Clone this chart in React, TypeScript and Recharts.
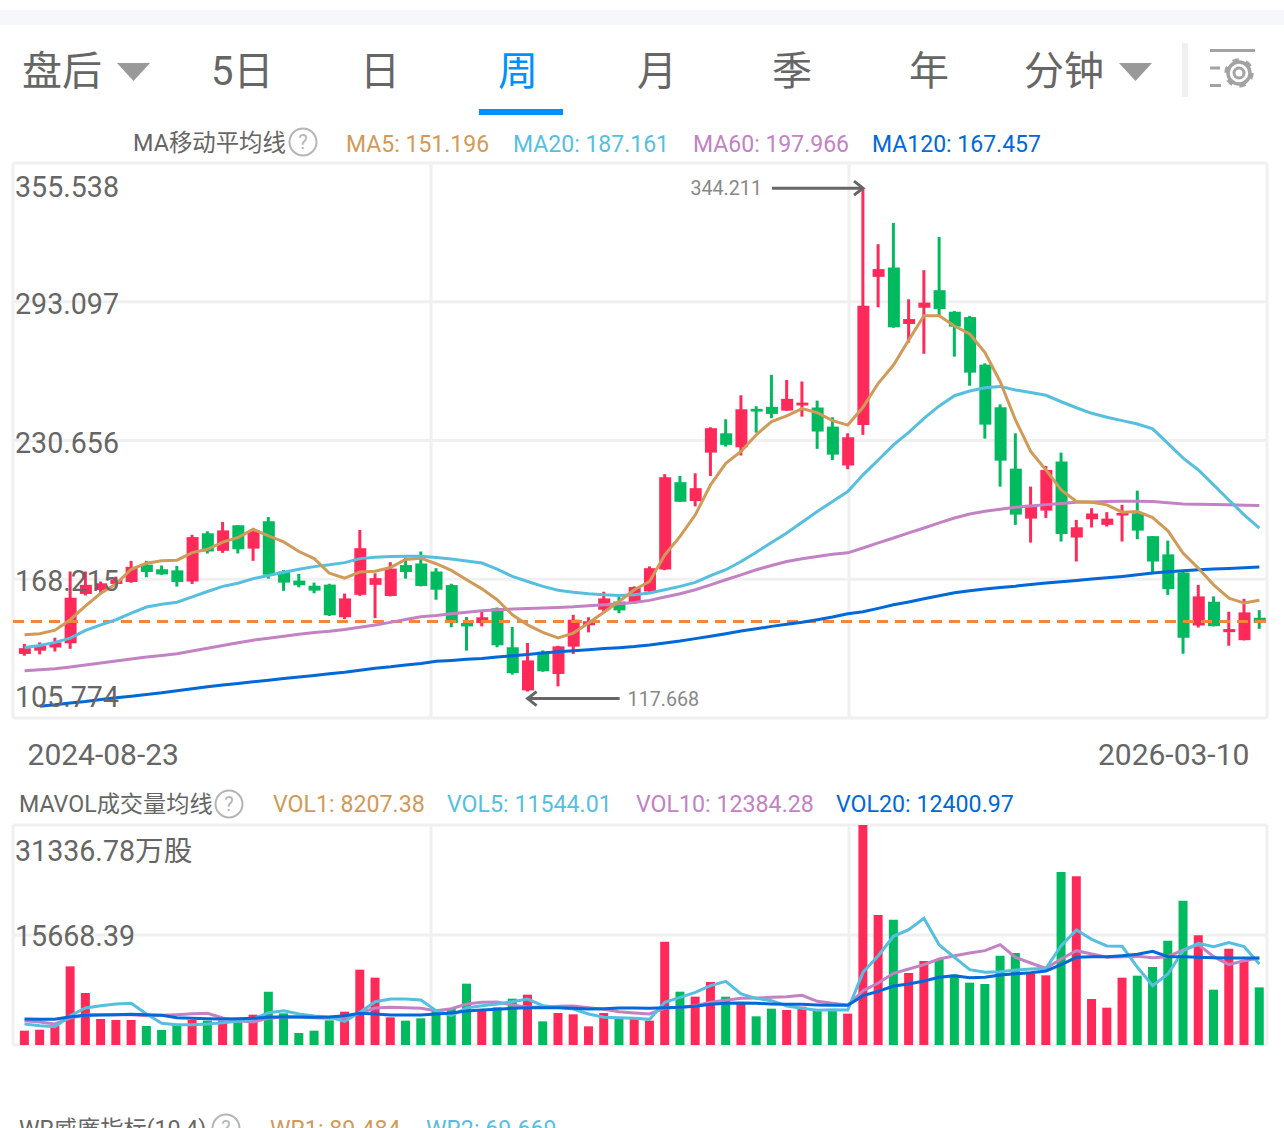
import React from "react";
import {
  Bar,
  CartesianGrid,
  Cell,
  ComposedChart,
  Line,
  ReferenceDot,
  ReferenceLine,
  XAxis,
  YAxis,
} from "recharts";

const dates = [
  "2024-08-23", "2024-08-30", "2024-09-06", "2024-09-13", "2024-09-20", "2024-09-27", "2024-10-04", "2024-10-11", "2024-10-18", "2024-10-25",
  "2024-11-01", "2024-11-08", "2024-11-15", "2024-11-22", "2024-11-29", "2024-12-06", "2024-12-13", "2024-12-20", "2024-12-27", "2025-01-03",
  "2025-01-10", "2025-01-17", "2025-01-24", "2025-01-31", "2025-02-07", "2025-02-14", "2025-02-21", "2025-02-28", "2025-03-07", "2025-03-14",
  "2025-03-21", "2025-03-28", "2025-04-04", "2025-04-11", "2025-04-18", "2025-04-25", "2025-05-02", "2025-05-09", "2025-05-16", "2025-05-23",
  "2025-05-30", "2025-06-06", "2025-06-13", "2025-06-20", "2025-06-27", "2025-07-04", "2025-07-11", "2025-07-18", "2025-07-25", "2025-08-01",
  "2025-08-08", "2025-08-15", "2025-08-22", "2025-08-29", "2025-09-05", "2025-09-12", "2025-09-19", "2025-09-26", "2025-10-03", "2025-10-10",
  "2025-10-17", "2025-10-24", "2025-10-31", "2025-11-07", "2025-11-14", "2025-11-21", "2025-11-28", "2025-12-05", "2025-12-12", "2025-12-19",
  "2025-12-26", "2026-01-02", "2026-01-09", "2026-01-16", "2026-01-23", "2026-01-30", "2026-02-06", "2026-02-13", "2026-02-20", "2026-02-27",
  "2026-03-06", "2026-03-10",
];

const opens = [
  134.6, 136.1, 137.5, 139.4, 161.6, 163.4, 166.1, 167, 174.8, 172.7,
  172.2, 167.2, 188.9, 181, 192.5, 182, 194.3, 171.7, 167.6, 165.3,
  165.8, 151.1, 161.2, 165.7, 160.7, 174.6, 175.3, 171.7, 165.6, 148.5,
  148.5, 155.2, 137.6, 118.2, 135.6, 125.6, 137.9, 147.5, 154.5, 158.2,
  157.8, 162.7, 172.6, 211.9, 203.4, 225.2, 233.9, 227.6, 244.9, 245.8,
  244.1, 246.4, 245.5, 236.9, 219.4, 237.6, 304.3, 308.5, 283.1, 290.4,
  298.3, 288.6, 286.2, 264.8, 245.6, 218, 195.5, 199.1, 221.2, 187,
  195.2, 192.7, 196.9, 197.9, 187.6, 179.4, 171.3, 147.4, 158.1, 144.4,
  140.8, 150.9,
];
const closes = [
  137.2, 138.2, 139.8, 159.9, 165.7, 166.4, 167.9, 173.8, 171.5, 170.4,
  167, 187.2, 180.7, 190.2, 181.7, 189.7, 170.2, 166.7, 165.5, 163.1,
  152, 159.6, 182.2, 168.7, 173, 171.5, 165.2, 163.5, 148.5, 147,
  151.1, 138.5, 126, 131.7, 126.8, 138, 150, 149.3, 159.6, 154.2,
  164.7, 173.2, 214.1, 203.1, 209.2, 236.2, 228.7, 244.7, 243.7, 242.6,
  249.4, 247.7, 234.7, 224.3, 232.1, 291.3, 307.8, 281.6, 285.3, 292.7,
  289.8, 281.9, 261.2, 237.8, 221.6, 197.3, 201.7, 217.4, 188.6, 191.6,
  197.8, 195.5, 198.1, 190.1, 176.2, 163.8, 141.9, 160.5, 147.1, 145.8,
  153.3, 148.6,
];
const highs = [
  139.1, 139.8, 141.9, 171.7, 171.7, 167.2, 169.4, 176.5, 176.5, 174.4,
  174.2, 188.2, 189.8, 194, 192.6, 190.4, 196.2, 172.4, 170.6, 166.7,
  166.2, 161.8, 190.4, 170.9, 175.9, 178, 180.7, 173.2, 166.2, 151.2,
  154.2, 155.5, 146.7, 139.5, 136.2, 138.3, 152.2, 151.1, 162.6, 160.2,
  165, 174, 215.5, 214.7, 215.9, 236.6, 240.2, 251, 246.1, 260.2,
  257.9, 257.2, 248.6, 241.1, 233.9, 344.211, 319, 328.6, 294.2, 307.3,
  322.2, 288.9, 286.7, 265.4, 246.9, 233.9, 209.9, 219.2, 225.2, 194.9,
  200.2, 198.4, 201.7, 208.1, 187.6, 185.6, 171.4, 165.7, 160.5, 153.6,
  159.4, 154.3,
];
const lows = [
  133.8, 134.4, 135.7, 136.9, 160.9, 161.9, 165.7, 166.6, 169.1, 170.2,
  164.9, 166.1, 179.8, 180.1, 179.8, 176.5, 168.5, 163, 164.6, 161.9,
  151.7, 150.3, 160.7, 150.7, 160.5, 168.5, 165, 159, 146.6, 136.1,
  147, 137.6, 125.3, 117.668, 126.6, 120, 134.6, 144.3, 153.7, 152.9,
  157.3, 162.6, 172.3, 203, 201, 214.7, 227.9, 223.9, 234.2, 240.7,
  244, 241.4, 226.9, 221.9, 217.7, 233.2, 290.6, 281.4, 274.7, 269.7,
  286.8, 268.4, 255.3, 231.5, 209.9, 192.7, 184.7, 195.8, 185.2, 176.2,
  191.5, 191.9, 185.2, 186.2, 170.5, 161.2, 134.7, 146.5, 147, 138.3,
  140.7, 145.9,
];

const ma5 = [
  143.2, 143.7, 145.3, 150, 156.2, 161.9, 166.1, 172.7, 175.4, 176.5,
  176.8, 180.2, 181.7, 184.9, 187, 190.7, 187.7, 185, 180.7, 177.5,
  170.9, 168.7, 171.5, 171.8, 173.5, 177.1, 177.7, 175.2, 172.2, 168,
  163.9, 159, 152.2, 147.7, 144.3, 141.8, 144, 148.5, 153.4, 158.2,
  163.5, 167.2, 179.2, 187.5, 197.2, 210.7, 220.4, 225.7, 233.2, 239.2,
  241.7, 245, 243.2, 239.6, 237.6, 245.6, 256.4, 264.6, 275.9, 286.8,
  286.8, 282.2, 278.6, 270.2, 257.1, 239.9, 225.7, 217.4, 208.4, 203.2,
  202.9, 201.7, 198.4, 198.7, 196, 190, 179.9, 173.2, 165.7, 159.7,
  157.5, 158.8,
];
const ma20 = [
  137.5, 138.4, 139.8, 141.7, 145.2, 147.7, 150, 153, 155.7, 157,
  157.9, 160.3, 162.7, 165, 166.4, 168.5, 169.9, 171.4, 172.7, 173.9,
  174.7, 175.7, 177.5, 178.1, 178.4, 178.6, 178.6, 178, 177.3, 176.4,
  175.5, 172.8, 169.5, 167.2, 165, 163.3, 162.4, 161.7, 161.2, 160.9,
  161.2, 162, 163.5, 165, 166.8, 169.8, 172.5, 176.2, 180.4, 184.8,
  189, 193.9, 198.7, 203.2, 207.7, 215.2, 221.9, 228.7, 234.3, 240.6,
  246.2, 250.8, 252.9, 254.4, 255, 253.4, 252.3, 251, 248.1, 245.4,
  242.9, 241.1, 239.6, 238.1, 235.9, 229.4, 222.7, 217.4, 210.7, 203.9,
  197.2, 191.2,
];
const ma60 = [
  127, 127.5, 127.9, 128.7, 129.6, 130.5, 131.4, 132.3, 133.2, 133.9,
  134.7, 135.9, 137.2, 138.4, 139.6, 140.8, 141.7, 142.6, 143.5, 144.3,
  144.8, 145.6, 146.6, 147.6, 148.8, 150.1, 151.3, 151.9, 152.7, 153.4,
  154, 154.5, 154.8, 155.1, 155.3, 155.5, 155.8, 156.3, 156.7, 157.2,
  157.8, 158.7, 160.2, 161.7, 163.5, 165.7, 168, 170.2, 172.5, 174.4,
  176.2, 177.4, 178.5, 179.5, 180.1, 182.3, 184.6, 186.8, 189.1, 191.3,
  193.6, 195.8, 197.6, 198.8, 199.7, 200.6, 201.2, 201.8, 202.3, 202.9,
  203, 203.2, 203.3, 203.3, 203.2, 202.6, 202.1, 202, 201.8, 201.7,
  201.5, 201.4,
];
const ma120 = [
  null, 111.1, 111.7, 112.5, 113.2, 114.1, 114.9, 115.6, 116.4, 117.1,
  118, 118.9, 119.8, 120.6, 121.3, 122.1, 122.8, 123.6, 124.2, 124.9,
  125.7, 126.4, 127.3, 128.2, 128.8, 129.6, 130.3, 131.3, 131.7, 132.2,
  132.6, 133.2, 133.8, 134.4, 135, 135.6, 136, 136.5, 137, 137.4,
  137.9, 138.6, 139.5, 140.4, 141.5, 142.6, 143.7, 144.9, 145.9, 147,
  148, 148.9, 150, 151.2, 152.7, 153.6, 155.1, 156.7, 158, 159.4,
  160.8, 162.1, 163, 163.8, 164.5, 165.1, 165.9, 166.5, 167.1, 167.7,
  168.3, 168.9, 169.5, 170.2, 171, 171.6, 172, 172.5, 172.8, 173.1,
  173.4, 173.7,
];

const vol1 = [
  2042, 2184, 2754, 11205, 7407, 3703, 3561, 3561, 2706, 2137,
  2991, 3561, 3466, 3466, 3229, 4321, 7597, 4511, 1709, 2042,
  3514, 4748, 10730, 9591, 3941, 3466, 3798, 4890, 5128, 8736,
  4890, 5365, 6600, 7169, 3371, 4558, 4368, 2659, 4558, 3941,
  3703, 3466, 14719, 7597, 6885, 8974, 6885, 6077, 4083, 5175,
  4985, 5460, 5128, 5128, 4463, 31336.78, 18517, 17852, 10256, 11965,
  12250, 10018, 8879, 8689, 12725, 13104, 10113, 9923, 24642, 24025,
  6552, 5318, 9591, 9876, 11110, 14861, 20559, 15621, 7882, 13722,
  12012, 8207.38,
];
const vol5 = [
  2991, 2754, 2611, 4178, 5270, 5603, 5840, 5935, 4416, 3086,
  2896, 2896, 2991, 3181, 3371, 3703, 4606, 4890, 4416, 4131,
  3988, 3371, 4653, 6172, 6552, 6552, 6410, 4890, 4178, 5270,
  5603, 5840, 6172, 6552, 5603, 5365, 5128, 4416, 3941, 3893,
  3798, 3656, 6077, 6790, 7502, 8451, 9069, 7264, 6647, 6315,
  5555, 5223, 4938, 5033, 4985, 10351, 12725, 15478, 16428, 18042,
  14244, 12487, 10730, 10351, 10446, 10683, 10825, 10920, 14149, 16381,
  15051, 14102, 14054, 11063, 8451, 10113, 13437, 14481, 14007, 14576,
  14007, 11544.01,
];
const vol10 = [
  3466, 3276, 2991, 3846, 4273, 4321, 4321, 4321, 4178, 4226,
  4321, 4463, 4511, 3846, 3466, 3276, 3798, 3988, 3988, 3893,
  3798, 3941, 4558, 5270, 5365, 5318, 5223, 4890, 5175, 5840,
  6077, 6125, 5698, 5365, 5413, 5508, 5555, 5318, 5080, 4748,
  4558, 4416, 5270, 5365, 5603, 6077, 6362, 6647, 6695, 6790,
  6885, 7075, 6220, 5935, 5698, 7739, 8831, 10208, 10825, 11443,
  12250, 12725, 13104, 13437, 14291, 12487, 11680, 10920, 12250, 13437,
  12962, 12487, 12582, 12630, 12440, 12582, 13532, 14291, 12582, 11443,
  12012, 12384.28,
];
const vol20 = [
  3703, 3656, 3656, 4036, 4226, 4273, 4321, 4368, 4321, 4226,
  3893, 3798, 3751, 3703, 3751, 3798, 3941, 4036, 3988, 3941,
  3988, 4178, 4511, 4416, 4273, 4273, 4273, 4416, 4558, 4843,
  4985, 5080, 5223, 5318, 5318, 5318, 5223, 5128, 5175, 5270,
  5270, 5223, 5318, 5365, 5508, 5793, 5935, 5982, 5935, 5840,
  5793, 5793, 5698, 5650, 5650, 7027, 7644, 8404, 8689, 9116,
  9638, 9876, 9591, 9638, 9971, 10161, 10303, 10541, 11443, 12487,
  12582, 12582, 12725, 12915, 13342, 12582, 12582, 12487, 12440, 12392,
  12392, 12400.97,
];

const priceTicks = [105.774, 168.215, 230.656, 293.097, 355.538];
const volumeTicks = [0, 15668.39, 31336.78];
const tabs = [
  { label: "盘后", x: 22 },
  { label: "5日", x: 211 },
  { label: "日", x: 360 },
  { label: "周", x: 498, active: true },
  { label: "月", x: 637 },
  { label: "季", x: 772 },
  { label: "年", x: 909 },
  { label: "分钟", x: 1024 },
];
const maLegend = [
  { text: "MA5: 151.196", x: 346, color: "#d09a58" },
  { text: "MA20: 187.161", x: 513, color: "#56bfe0" },
  { text: "MA60: 197.966", x: 693, color: "#c282c4" },
  { text: "MA120: 167.457", x: 872, color: "#0068d8" },
];
const volLegend = [
  { text: "VOL1: 8207.38", x: 273, color: "#d09a58" },
  { text: "VOL5: 11544.01", x: 447, color: "#56bfe0" },
  { text: "VOL10: 12384.28", x: 636, color: "#c282c4" },
  { text: "VOL20: 12400.97", x: 836, color: "#0068d8" },
];
const wrLegend = [
  { text: "WR1: 89.484", x: 270, color: "#d09a58" },
  { text: "WR2: 69.669", x: 426, color: "#56bfe0" },
];

const RED = "#ff2a5a";
const GREEN = "#00ba5f";
const GRID = "#f0f0f0";
const FONT = 'Roboto, "Noto Sans CJK SC", sans-serif';

const candleRows = dates.map((date, i) => ({
  date,
  wick: [lows[i], highs[i]],
  body: [Math.min(opens[i], closes[i]), Math.max(opens[i], closes[i])],
  up: closes[i] > opens[i],
  ma5: ma5[i],
  ma20: ma20[i],
  ma60: ma60[i],
  ma120: ma120[i],
}));

const volumeRows = dates.map((date, i) => ({
  date,
  vol: vol1[i],
  up: closes[i] > opens[i],
  vol5: vol5[i],
  vol10: vol10[i],
  vol20: vol20[i],
}));

const Txt = ({ x, y, size, color, children }: any) => (
  <span
    style={{
      position: "absolute",
      left: x,
      top: y,
      transform: "translateY(-50%)",
      fontSize: size,
      lineHeight: 1,
      color,
      whiteSpace: "nowrap",
    }}
  >
    {children}
  </span>
);

const Help = ({ x, y }: any) => (
  <svg style={{ position: "absolute", left: x - 15, top: y - 15 }} width={30} height={30}>
    <circle cx={15} cy={15} r={13.5} fill="none" stroke="#b5b5b5" strokeWidth={2} />
    <text x={15} y={22} textAnchor="middle" fontSize={20} fill="#b5b5b5">?</text>
  </svg>
);

const Triangle = ({ x }: any) => (
  <svg style={{ position: "absolute", left: x, top: 62 }} width={34} height={20}>
    <path d="M0 1 L33 1 L16.5 19 Z" fill="#999" />
  </svg>
);

const PriceTick = ({ y, index, payload }: any) => {
  // the top and bottom labels sit inside the frame, the others on their grid line
  const shift = index === 0 ? -21 : index === priceTicks.length - 1 ? 24 : 2;
  return (
    <text x={5} y={y + shift + 10} fontSize={28.6} fill="#666" fontFamily={FONT}>
      {payload.value.toFixed(3)}
    </text>
  );
};

const VolumeTick = ({ y, index, payload }: any) => {
  if (index === 0) return null;
  const top = index === volumeTicks.length - 1;
  return (
    <text x={5} y={y + (top ? 26 : 1) + 10} fontSize={28.6} fill="#666" fontFamily={FONT}>
      {payload.value.toFixed(2)}
      {top ? "万股" : ""}
    </text>
  );
};

const DateTick = ({ x, y, index, payload }: any) => (
  <text
    x={index === 0 ? x + 3 : x - 10}
    y={y + 39}
    fontSize={30}
    fill="#666"
    fontFamily={FONT}
    textAnchor={index === 0 ? "start" : "end"}
  >
    {payload.value}
  </text>
);

const HighMark = ({ cx, cy }: any) => (
  <g>
    <line x1={cx - 91} y1={cy} x2={cx} y2={cy} stroke="#666" strokeWidth={3} />
    <path d={`M${cx - 9} ${cy - 7} L${cx} ${cy} L${cx - 9} ${cy + 7}`} fill="none" stroke="#666" strokeWidth={3} />
    <text x={cx - 101} y={cy + 7} fontSize={19.7} fill="#888" fontFamily={FONT} textAnchor="end">344.211</text>
  </g>
);

const LowMark = ({ cx, cy }: any) => (
  <g>
    <line x1={cx} y1={cy + 7} x2={cx + 92} y2={cy + 7} stroke="#666" strokeWidth={3} />
    <path d={`M${cx + 9} ${cy} L${cx} ${cy + 7} L${cx + 9} ${cy + 14}`} fill="none" stroke="#666" strokeWidth={3} />
    <text x={cx + 100} y={cy + 14} fontSize={19.7} fill="#888" fontFamily={FONT}>117.668</text>
  </g>
);

const frameColumns = ({ offset }: any) => [
  offset.left,
  offset.left + offset.width / 3,
  offset.left + (offset.width * 2) / 3,
  offset.left + offset.width,
];

const CandleChart = () => (
  <div style={{ position: "absolute", left: 10, top: 160 }}>
    <ComposedChart
      width={1260}
      height={614}
      data={candleRows}
      margin={{ top: 3, right: 3, bottom: 0, left: 3 }}
    >
      <CartesianGrid stroke={GRID} strokeWidth={3} verticalCoordinatesGenerator={frameColumns} />
      <XAxis
        dataKey="date"
        height={56}
        padding={{ left: 3.9, right: 0 }}
        ticks={[dates[0], dates[dates.length - 1]]}
        interval={0}
        axisLine={false}
        tickLine={false}
        tick={<DateTick />}
      />
      <XAxis xAxisId="wick" dataKey="date" hide padding={{ left: 3.9, right: 0 }} />
      <Bar xAxisId="wick" dataKey="wick" barSize={3} isAnimationActive={false}>
        {candleRows.map((row) => (
          <Cell key={row.date} fill={row.up ? RED : GREEN} />
        ))}
      </Bar>
      <Bar dataKey="body" barSize={12} isAnimationActive={false}>
        {candleRows.map((row) => (
          <Cell key={row.date} fill={row.up ? RED : GREEN} />
        ))}
      </Bar>
      <ReferenceLine y={149.2} stroke="#f5843c" strokeWidth={3} strokeDasharray="11 7" />
      <Line dataKey="ma120" stroke="#0068d8" strokeWidth={3} dot={false} isAnimationActive={false} />
      <Line dataKey="ma60" stroke="#c282c4" strokeWidth={3} dot={false} isAnimationActive={false} />
      <Line dataKey="ma20" stroke="#56bfe0" strokeWidth={3} dot={false} isAnimationActive={false} />
      <Line dataKey="ma5" stroke="#d09a58" strokeWidth={3} dot={false} isAnimationActive={false} />
      <ReferenceDot x={dates[55]} y={344.211} shape={<HighMark />} />
      <ReferenceDot x={dates[33]} y={117.668} shape={<LowMark />} />
      <YAxis
        mirror
        domain={[105.774, 355.538]}
        ticks={priceTicks}
        interval={0}
        allowDataOverflow
        axisLine={false}
        tickLine={false}
        tick={<PriceTick />}
      />
    </ComposedChart>
  </div>
);

const VolumeChart = () => (
  <div style={{ position: "absolute", left: 10, top: 822 }}>
    <ComposedChart
      width={1260}
      height={226}
      data={volumeRows}
      margin={{ top: 3, right: 3, bottom: 3, left: 3 }}
    >
      <CartesianGrid stroke={GRID} strokeWidth={3} verticalCoordinatesGenerator={frameColumns} />
      <XAxis dataKey="date" hide padding={{ left: 3.9, right: 0 }} />
      <Bar dataKey="vol" barSize={9} isAnimationActive={false}>
        {volumeRows.map((row) => (
          <Cell key={row.date} fill={row.up ? RED : GREEN} />
        ))}
      </Bar>
      <Line dataKey="vol10" stroke="#c282c4" strokeWidth={3} dot={false} isAnimationActive={false} />
      <Line dataKey="vol5" stroke="#56bfe0" strokeWidth={3} dot={false} isAnimationActive={false} />
      <Line dataKey="vol20" stroke="#0068d8" strokeWidth={3} dot={false} isAnimationActive={false} />
      <YAxis
        mirror
        domain={[0, 31336.78]}
        ticks={volumeTicks}
        interval={0}
        allowDataOverflow
        axisLine={false}
        tickLine={false}
        tick={<VolumeTick />}
      />
    </ComposedChart>
  </div>
);

const SettingsIcon = () => (
  <svg style={{ position: "absolute", left: 1208, top: 46 }} width={50} height={46}>
    <g stroke="#a3a3a3" fill="none">
      <path d="M2 4.5 H47" strokeWidth={3} />
      <path d="M2 22 H12" strokeWidth={3} />
      <path d="M2 39.5 H13" strokeWidth={3} />
      <circle cx={31} cy={27} r={5} strokeWidth={3} />
      <circle cx={31} cy={27} r={11} strokeWidth={3.5} />
      <circle cx={31} cy={27} r={13} strokeWidth={3.5} strokeDasharray="6.2 7.4" />
    </g>
  </svg>
);

export default function App() {
  return (
    <div
      style={{
        position: "absolute",
        left: 0,
        top: 0,
        width: 1284,
        height: 1128,
        overflow: "hidden",
        background: "#fff",
        fontFamily: FONT,
      }}
    >
      <div style={{ position: "absolute", left: 0, top: 10, width: 1284, height: 15, background: "#f6f7fb" }} />

      {tabs.map((tab) => (
        <Txt key={tab.label} x={tab.x} y={72} size={40} color={tab.active ? "#0091ff" : "#666"}>
          {tab.label}
        </Txt>
      ))}
      <Triangle x={117} />
      <Triangle x={1119} />
      <div style={{ position: "absolute", left: 479, top: 109, width: 84, height: 6, background: "#0091ff" }} />
      <div style={{ position: "absolute", left: 1182, top: 43, width: 6, height: 54, background: GRID }} />
      <SettingsIcon />

      <Txt x={133} y={144} size={23.4} color="#666">MA移动平均线</Txt>
      <Help x={303} y={142} />
      {maLegend.map((item) => (
        <Txt key={item.text} x={item.x} y={144} size={23} color={item.color}>{item.text}</Txt>
      ))}

      <CandleChart />

      <Txt x={19} y={805} size={23.2} color="#666">MAVOL成交量均线</Txt>
      <Help x={229} y={804} />
      {volLegend.map((item) => (
        <Txt key={item.text} x={item.x} y={805} size={23.2} color={item.color}>{item.text}</Txt>
      ))}

      <VolumeChart />

      <Txt x={19} y={1130} size={23.2} color="#666">WR威廉指标(10,4)</Txt>
      <Help x={226} y={1128} />
      {wrLegend.map((item) => (
        <Txt key={item.text} x={item.x} y={1130} size={23.2} color={item.color}>{item.text}</Txt>
      ))}
    </div>
  );
}
